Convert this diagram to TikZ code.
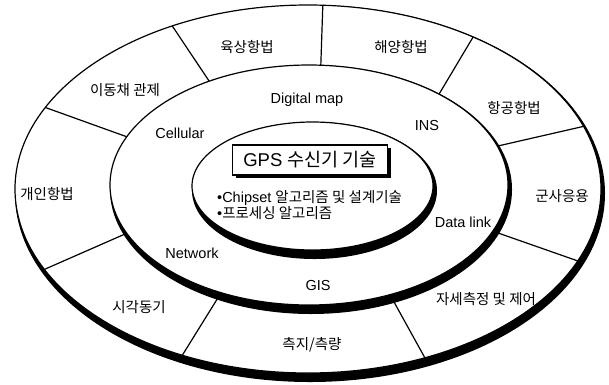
\documentclass[tikz,border=0pt]{standalone}
\usepackage{fontspec}
\setmainfont{Liberation Sans}
\newfontfamily\kr{Noto Sans CJK KR}
\usetikzlibrary{shadows}

\begin{document}
\begin{tikzpicture}[x=1pt,y=-1pt,
  ring/.style={draw,fill=white,line width=1.2pt},
  spoke/.style={line width=1.2pt},
  hangul/.style={font=\kr\fontsize{14.5}{16}\selectfont},
  latin/.style={font=\fontsize{14.5}{16}\selectfont},
  titlebox/.style={draw,fill=white,line width=1.2pt,minimum width=155pt,minimum height=30pt,
    inner sep=0pt,font=\fontsize{18.5}{20}\selectfont,
    drop shadow={shadow xshift=3pt,shadow yshift=-3pt,fill=black,opacity=1}}]
\clip (0,0) rectangle (609,384);
% outer ring
\fill (310,193.5) ellipse [x radius=295, y radius=188.5];
\draw[ring] (308,189) ellipse [x radius=293, y radius=184];
\foreach \a/\b in {-117.6/-120.1,-87.1/-86.6,-55.7/-49.2,-19.9/-18.9,23/22.6,
                   66.5/66,115.4/116.2,154.1/156.3,-153.7/-156.3}
  \draw[spoke] ([shift={(308,189)}]\a:293 and 184) -- ([shift={(309,185)}]\b:199 and 120);
% middle ring
\fill (311,189.5) ellipse [x radius=201, y radius=124.5];
\draw[ring] (309,185) ellipse [x radius=199, y radius=120];
% inner ring
\fill (314.5,190.5) ellipse [x radius=122.5, y radius=68.5];
\draw[ring] (312.5,186) ellipse [x radius=120.5, y radius=64];

\node[hangul] (land) at (247,47) {육상항법};
\node[hangul] (fleet) at (125,90) {이동채 관제};
\node[hangul] (sea) at (401,47) {해양항법};
\node[hangul] (air) at (514,108) {항공항법};
\node[hangul] (mil) at (562,196) {군사응용};
\node[hangul] (attitude) at (486,299) {자세측정 및 제어};
\node[hangul] (survey) at (312,345) {측지/측량};
\node[hangul] (timing) at (139,307) {시각동기};
\node[hangul] (personal) at (47,194) {개인항법};

\node[latin] (map) at (307,100) {Digital map};
\node[latin] (ins) at (427,126) {INS};
\node[latin] (cell) at (180,133) {Cellular};
\node[latin] (net) at (192,253) {Network};
\node[latin] (gis) at (318,285) {GIS};
\node[latin] (link) at (463,222) {Data link};

\node[titlebox] (gps) at (310,160) {GPS {\kr 수신기 기술}};
\node[latin,anchor=west,align=left,inner sep=0pt] (tech) at (217,205)
  {•Chipset {\kr 알고리즘 및 설계기술}\\•{\kr 프로세싱 알고리즘}};
\end{tikzpicture}
\end{document}
